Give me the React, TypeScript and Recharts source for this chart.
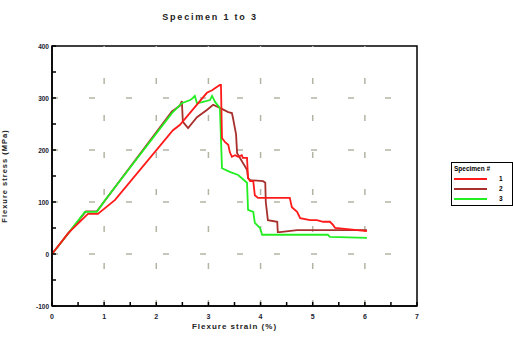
import { LineChart, Line, XAxis, YAxis, ReferenceLine, ReferenceArea, Label } from "recharts";

// strain (%) , stress (MPa) pairs
const specimen1 = [
  [0, 0], [0.31, 40], [0.69, 77], [0.88, 77], [1.21, 104], [2.32, 238], [2.45, 248],
  [2.97, 310], [3.07, 315], [3.16, 321], [3.22, 325], [3.24, 325], [3.26, 223],
  [3.32, 215], [3.38, 210], [3.41, 196], [3.45, 187], [3.51, 190], [3.57, 187],
  [3.64, 190], [3.66, 185], [3.74, 185], [3.76, 146], [3.8, 140], [3.86, 140],
  [3.89, 113], [3.95, 108], [4.56, 108], [4.6, 90], [4.7, 81], [4.76, 69],
  [4.95, 65], [5.08, 65], [5.2, 62], [5.33, 62], [5.39, 56], [5.43, 50], [6.04, 44],
];

const specimen2 = [
  [0, 0], [0.65, 82], [0.86, 82], [2.3, 274], [2.45, 285], [2.49, 294], [2.51, 254],
  [2.61, 242], [2.78, 263], [2.97, 277], [3.09, 287], [3.22, 281], [3.38, 273],
  [3.45, 271], [3.47, 262], [3.53, 230], [3.55, 194], [3.74, 162], [3.76, 146],
  [3.8, 142], [4.05, 140], [4.09, 137], [4.1, 100], [4.14, 65], [4.32, 62],
  [4.33, 42], [4.37, 42], [4.7, 46], [6.04, 46],
];

const specimen3 = [
  [0, 0], [0.63, 81], [0.86, 81], [1.02, 104], [2.3, 271], [2.4, 281], [2.49, 290],
  [2.65, 296], [2.7, 300], [2.74, 304], [2.78, 290], [2.88, 292], [3.03, 296],
  [3.07, 304], [3.13, 292], [3.22, 281], [3.26, 165], [3.41, 158], [3.57, 152],
  [3.74, 137], [3.76, 85], [3.86, 81], [3.89, 60], [3.99, 50], [4.03, 37],
  [5.29, 37], [5.33, 33], [6.04, 31],
];

const strainTicks = [0, 0.5, 1, 1.5, 2, 2.5, 3, 3.5, 4, 4.5, 5, 5.5, 6, 6.5, 7];
const stressTicks = [-100, -50, 0, 50, 100, 150, 200, 250, 300, 350, 400];
const gridStrain = [1, 2, 3, 4, 5, 6];
const gridStress = [0, 100, 200, 300];

const series = [
  { name: "1", color: "#ff1a1a", points: specimen1 },
  { name: "2", color: "#a8302c", points: specimen2 },
  { name: "3", color: "#22ee22", points: specimen3 },
];

const toRows = (pts: number[][]) => pts.map(([x, y]) => ({ x, y }));

const font = "'Liberation Sans', Arial, sans-serif";

const XTick = ({ x, y, payload }: any) => {
  const v = payload.value;
  return (
    <g>
      <line x1={x} x2={x} y1={y} y2={y - 4} stroke="#000" strokeWidth={1.5} />
      {Number.isInteger(v) && (
        <text x={x} y={y + 13} textAnchor="middle" fontSize={7} fontWeight="bold" fontFamily={font} fill="#223">
          {v}
        </text>
      )}
    </g>
  );
};

const YTick = ({ x, y, payload }: any) => {
  const v = payload.value;
  return (
    <g>
      <line x1={x} x2={x + 4} y1={y} y2={y} stroke="#000" strokeWidth={1.5} />
      {v % 100 === 0 && (
        <text x={x - 3} y={y + 2.5} textAnchor="end" fontSize={6.5} fontWeight="bold" fontFamily={font} fill="#223">
          {v}
        </text>
      )}
    </g>
  );
};

const LegendBox = () => (
  <div
    style={{
      position: "absolute",
      left: 451,
      top: 162,
      width: 62,
      height: 44,
      border: "1.5px solid #000",
      background: "#fff",
      fontFamily: font,
      fontSize: 6.5,
      fontWeight: "bold",
      boxSizing: "border-box",
      padding: "1px 2px",
      lineHeight: "10px",
    }}
  >
    <div style={{ whiteSpace: "nowrap" }}>Specimen #</div>
    {series.map((s) => (
      <div key={s.name} style={{ display: "flex", alignItems: "center", height: 10 }}>
        <span style={{ display: "inline-block", width: 33, height: 2, background: s.color }} />
        <span style={{ marginLeft: 12 }}>{s.name}</span>
      </div>
    ))}
  </div>
);

export default function App() {
  return (
    <div style={{ position: "absolute", left: 0, top: 0, width: 513, height: 339, background: "#fff" }}>
      <LineChart width={513} height={339} margin={{ top: 46, right: 96, bottom: 19, left: 22 }}>
        <text x={210} y={20} textAnchor="middle" fontSize={9} fontWeight="bold" fontFamily={font} letterSpacing={1.8} fill="#222">
          Specimen 1 to 3
        </text>
        <XAxis
          type="number"
          dataKey="x"
          domain={[0, 7]}
          ticks={strainTicks}
          tick={<XTick />}
          tickSize={0}
          tickMargin={0}
          tickLine={false}
          axisLine={{ stroke: "#000", strokeWidth: 1.5 }}
          height={14}
          interval={0}
          allowDuplicatedCategory={false}
        >
          <Label
            value="Flexure strain (%)"
            position="bottom"
            offset={3}
            style={{ fontSize: 8, fontWeight: "bold", fontFamily: font, letterSpacing: 1, fill: "#222" }}
          />
        </XAxis>
        <YAxis
          type="number"
          domain={[-100, 400]}
          ticks={stressTicks}
          tick={<YTick />}
          tickSize={0}
          tickMargin={0}
          tickLine={false}
          axisLine={{ stroke: "#000", strokeWidth: 1.5 }}
          width={30}
          interval={0}
        >
          <Label
            value="Flexure stress (MPa)"
            angle={-90}
            position="insideLeft"
            offset={-18}
            style={{ textAnchor: "middle", fontSize: 7.5, fontWeight: "bold", fontFamily: font, letterSpacing: 1, fill: "#222" }}
          />
        </YAxis>
        {gridStrain.map((v) => (
          <ReferenceLine key={"gx" + v} x={v} stroke="#b4b4a4" strokeWidth={1.5} strokeDasharray="6 31" />
        ))}
        {gridStress.map((v) => (
          <ReferenceLine key={"gy" + v} y={v} stroke="#b4b4a4" strokeWidth={1.5} strokeDasharray="6 31" />
        ))}
        <ReferenceArea x1={0} x2={7} y1={-100} y2={400} fill="none" stroke="#000" strokeWidth={1.5} />
        {[series[1], series[2], series[0]].map((s) => (
          <Line
            key={s.name}
            data={toRows(s.points)}
            dataKey="y"
            name={s.name}
            type="linear"
            stroke={s.color}
            strokeWidth={1.8}
            dot={false}
            isAnimationActive={false}
          />
        ))}
      </LineChart>
      <LegendBox />
    </div>
  );
}
